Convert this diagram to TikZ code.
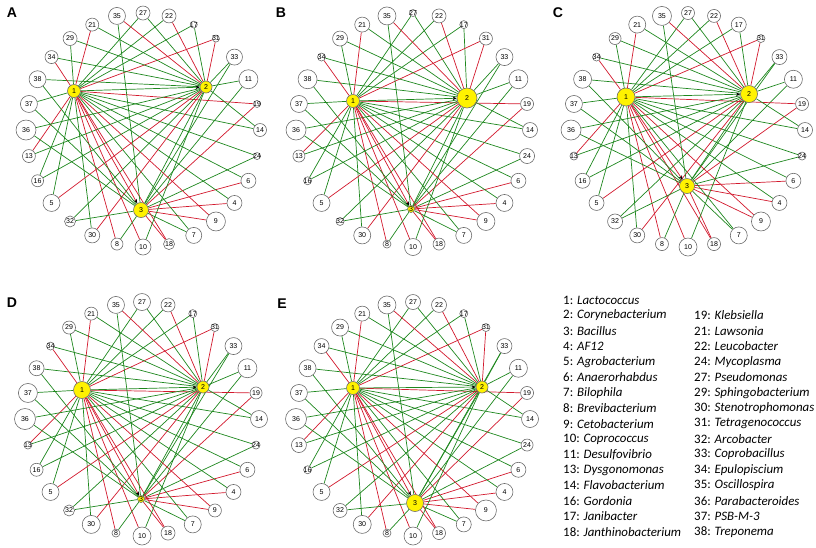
\documentclass[tikz,border=0pt]{standalone}
\usepackage{fontspec}
\setmainfont{Carlito}
\newfontfamily\numfont{Liberation Sans}
\usepackage{tikz}
\usetikzlibrary{arrows.meta,calc}
\pgfdeclarelayer{bg}
\pgfsetlayers{bg,main}
\definecolor{grn}{RGB}{30,135,30}
\definecolor{rd}{RGB}{210,25,45}
\definecolor{ring}{RGB}{105,105,105}

\tikzset{
  taxon/.style={circle, draw=ring, fill=white, line width=0.5pt, inner sep=0pt,
    font=\numfont\fontsize{6}{7}\selectfont},
  hub/.style={taxon, fill=yellow},
  link/.style={line width=0.6pt},
  hublink/.style={link, -{Stealth[length=3.5pt,width=3pt,color=black]}},
  panellabel/.style={font=\numfont\bfseries\fontsize{12}{14}\selectfont},
  legentry/.style={anchor=west, inner sep=0pt, font=\fontsize{11}{13}\selectfont}
}

% outer taxa, clockwise from the top
\def\ringorder{27,22,17,31,33,11,19,14,24,6,4,9,7,18,10,8,30,32,5,16,13,36,37,38,34,29,21,35}
% taxon / first hub / colour / second hub / colour
\def\edgelist{27/1/grn/2/grn, 22/1/grn/2/rd, 17/1/grn/2/grn, 31/1/rd/2/rd,
  33/2/grn/3/grn, 11/2/grn/3/grn, 19/1/rd/3/rd, 14/1/grn/2/grn, 24/1/grn/3/grn,
  6/1/grn/3/rd, 4/1/grn/3/rd, 9/1/rd/3/rd, 7/1/grn/3/grn, 18/1/rd/3/rd,
  10/1/rd/2/grn, 8/1/rd/3/grn, 30/1/grn/2/rd, 32/2/grn/3/grn, 5/1/grn/2/rd,
  16/1/grn/2/grn, 13/1/rd/2/grn, 36/2/grn/3/grn, 37/1/grn/3/grn, 38/2/grn/3/grn,
  34/1/rd/2/grn, 29/1/grn/2/grn, 21/1/rd/2/grn, 35/2/rd/3/grn}

% #1 panel, #2 centre, #3-#5 hubs, #6 hub sizes, #7 ring sizes
\newcommand{\netpanel}[7]{%
  \begin{scope}[shift={#2}]
    \foreach \n [count=\k from 0] in \ringorder {
      \pgfmathsetmacro\d{#7[\k]}
      \node [taxon, minimum size=\d*0.03cm] (#1\n) at ({-90+\k*360/28}:117) {\makebox[0pt]{\n}};
    }
    \pgfmathsetmacro\da{#6[0]}
    \pgfmathsetmacro\db{#6[1]}
    \pgfmathsetmacro\dc{#6[2]}
    \node [hub, minimum size=\da*0.03cm] (#11) at #3 {\makebox[0pt]{1}};
    \node [hub, minimum size=\db*0.03cm] (#12) at #4 {\makebox[0pt]{2}};
    \node [hub, minimum size=\dc*0.03cm] (#13) at #5 {\makebox[0pt]{3}};
    \begin{pgfonlayer}{bg}    % edges behind the circles
      \foreach \n/\p/\c/\q/\e in \edgelist {
        \draw [link, draw=\c] (#1\p) -- (#1\n);
        \draw [link, draw=\e] (#1\q) -- (#1\n);
      }
      \draw [hublink, draw=grn] (#11) -- (#12);
      \draw [hublink, draw=rd] (#11) -- (#13);
      \draw [link, draw=grn] (#13) -- (#12);
    \end{pgfonlayer}
  \end{scope}}

\begin{document}
\begin{tikzpicture}[x=0.03cm, y=-0.03cm]
  \useasboundingbox (0,0) rectangle (816,547);

  \node [panellabel] (labA) at (12,13) {A};
  \node [panellabel] (labB) at (281,13) {B};
  \node [panellabel] (labC) at (558,13) {C};
  \node [panellabel] (labD) at (12,303) {D};
  \node [panellabel] (labE) at (282,304) {E};

  \netpanel{A}{(143,130)}{(-69,-39)}{(63,-43)}{(-2,80)}{{13,12,15}}
    {{14,14,7,7,16,19,7,13,7,15,15,19,16,11,16,12,15,11,17,12,13,20,17,17,13,14,13,17}}
  \netpanel{B}{(413,130)}{(-60,-29)}{(54,-32)}{(-2,79)}{{13,20,7}}
    {{7,14,8,13,17,19,13,15,15,15,17,18,16,12,17,8,17,8,17,8,12,20,17,19,8,15,15,18}}
  \netpanel{C}{(688,130)}{(-62,-33)}{(61,-36)}{(-1,56)}{{18,17,15}}
    {{13,13,15,8,15,18,13,15,8,15,15,19,17,13,18,13,15,15,15,15,8,20,17,18,8,12,17,19}}
  \netpanel{D}{(142,419)}{(-60,-29)}{(61,-32)}{(-1,80)}{{17,12,7}}
    {{17,14,8,8,17,19,12,17,8,15,15,13,17,14,18,8,18,11,17,13,8,21,19,15,8,13,13,17}}
  \netpanel{E}{(413,419)}{(-60,-31)}{(69,-32)}{(2,84)}{{13,12,17}}
    {{15,15,8,8,15,18,13,17,12,15,17,21,15,13,18,8,18,14,17,8,15,21,17,17,15,17,15,18}}

  % key to the numbers
  \foreach \num/\genus [count=\i from 0] in {1/Lactococcus, 2/Corynebacterium,
    3/Bacillus, 4/AF12, 5/Agrobacterium, 6/Anaerorhabdus, 7/Bilophila,
    8/Brevibacterium, 9/Cetobacterium, 10/Coprococcus, 11/Desulfovibrio,
    13/Dysgonomonas, 14/Flavobacterium, 16/Gordonia, 17/Janibacter,
    18/Janthinobacterium}
    \node [legentry] (leg\num) at (563,{300+\i*15.45}) {\num: \textit{\genus}};
  \foreach \num/\genus [count=\i from 1] in {19/Klebsiella, 21/Lawsonia,
    22/Leucobacter, 24/Mycoplasma, 27/Pseudomonas, 29/Sphingobacterium,
    30/Stenotrophomonas, 31/Tetragenococcus, 32/Arcobacter, 33/Coprobacillus,
    34/Epulopiscium, 35/Oscillospira, 36/Parabacteroides, 37/PSB-M-3,
    38/Treponema}
    \node [legentry] (leg\num) at (694,{300+\i*15.45}) {\num: \textit{\genus}};
\end{tikzpicture}
\end{document}
